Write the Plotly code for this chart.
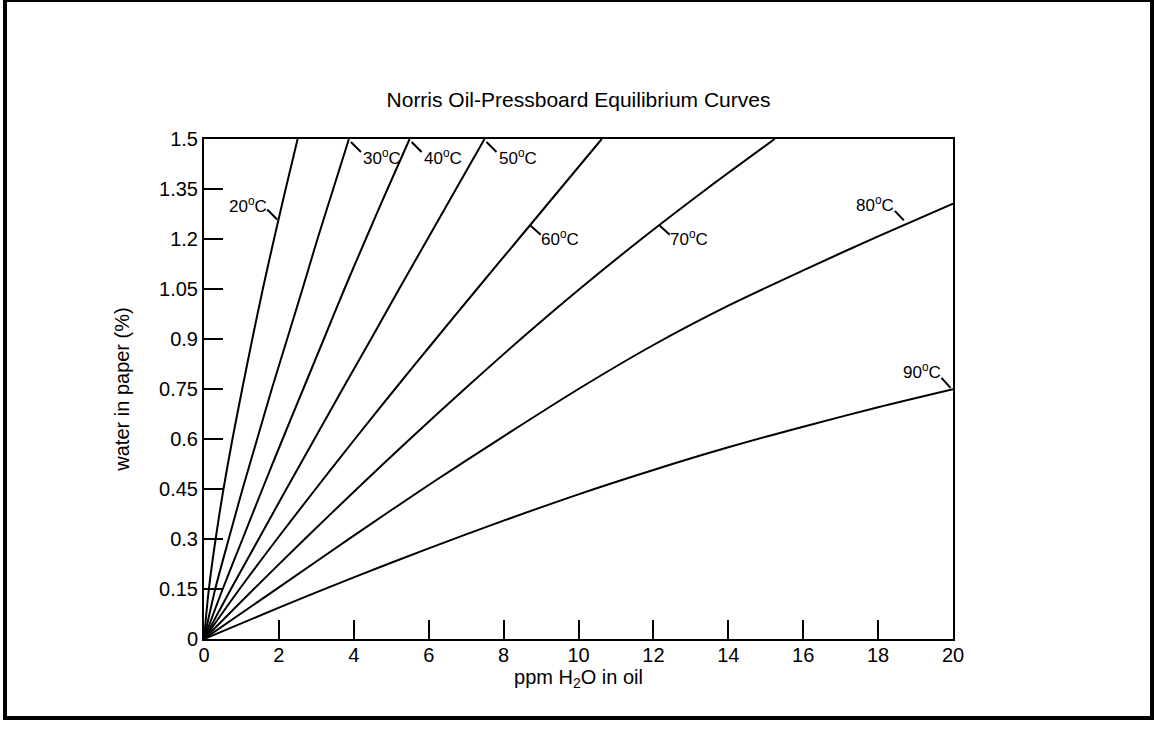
import numpy as np
import plotly.graph_objects as go

# Water content in paper (%) at which the steep curves were read
water_levels = [0, 0.15, 0.30, 0.45, 0.60, 0.75, 0.90, 1.05, 1.20, 1.35, 1.50]

# ppm of water in oil for each temperature at the water levels above
ppm_20 = [0, 0.13, 0.31, 0.52, 0.76, 1.02, 1.29, 1.57, 1.87, 2.18, 2.50]
ppm_30 = [0, 0.30, 0.66, 1.03, 1.42, 1.81, 2.22, 2.63, 3.03, 3.45, 3.87]
ppm_40 = [0, 0.50, 1.03, 1.56, 2.10, 2.65, 3.20, 3.75, 4.32, 4.90, 5.49]
ppm_50 = [0, 0.72, 1.46, 2.20, 2.95, 3.70, 4.46, 5.21, 5.97, 6.73, 7.49]
ppm_60 = [0, 0.95, 1.95, 2.98, 4.03, 5.10, 6.19, 7.29, 8.40, 9.51, 10.62]
ppm_70 = [0, 1.33, 2.69, 4.08, 5.50, 6.96, 8.46, 10.03, 11.68, 13.42, 15.24]

# The flatter curves, read at even ppm values
ppm_grid = [0, 2, 4, 6, 8, 10, 12, 14, 16, 18, 20]
water_80 = [0, 0.155, 0.31, 0.462, 0.608, 0.75, 0.882, 1.0, 1.106, 1.208, 1.306]
water_90 = [0, 0.094, 0.185, 0.272, 0.355, 0.434, 0.507, 0.575, 0.637, 0.695, 0.749]

curve_names = ["20", "30", "40", "50", "60", "70", "80", "90"]

x_ticks = [0, 2, 4, 6, 8, 10, 12, 14, 16, 18, 20]
y_ticks = [0, 0.15, 0.30, 0.45, 0.60, 0.75, 0.90, 1.05, 1.20, 1.35, 1.50]
y_tick_text = ["0", "0.15", "0.3", "0.45", "0.6", "0.75", "0.9", "1.05", "1.2", "1.35", "1.5"]

curves = {
    "20": (ppm_20, water_levels),
    "30": (ppm_30, water_levels),
    "40": (ppm_40, water_levels),
    "50": (ppm_50, water_levels),
    "60": (ppm_60, water_levels),
    "70": (ppm_70, water_levels),
    "80": (ppm_grid, water_80),
    "90": (ppm_grid, water_90),
}

FONT = "Liberation Sans, Arial, Helvetica, sans-serif"

fig = go.Figure()
for name in curve_names:
    xs, ys = curves[name]
    fig.add_trace(go.Scatter(
        x=xs, y=ys, mode="lines", name=name + "°C",
        line=dict(color="black", width=2, shape="spline", smoothing=0.8),
        hoverinfo="skip", showlegend=False, cliponaxis=True,
    ))

# Label placement: where the label attaches on each curve, plus the leader
# and text offsets in screen pixels (dx right, dy down).
label_spec = {
    "20": dict(by="water", at=1.26, lead=(-11.5, -9.5, -1.5, 0.5), text=(-31, -14.5)),
    "30": dict(by="water", at=1.50, lead=(2, 3, 12, 13), text=(33, 18)),
    "40": dict(by="water", at=1.50, lead=(2, 3, 12, 13), text=(33, 18)),
    "50": dict(by="water", at=1.50, lead=(2, 3, 12, 13), text=(33, 18)),
    "60": dict(by="water", at=1.24, lead=(1, 0, 11, 9), text=(30, 12.5)),
    "70": dict(by="water", at=1.24, lead=(1, 0, 11, 9), text=(30, 12.5)),
    "80": dict(by="ppm", at=18.7, lead=(-9.5, -14, -0.5, -4.5), text=(-29.5, -20.5)),
    "90": dict(by="ppm", at=20.0, lead=(-11.5, -11.5, -2.5, -1.5), text=(-31.5, -18)),
}

shapes = []
annotations = []
for name in curve_names:
    xs, ys = curves[name]
    spec = label_spec[name]
    if spec["by"] == "water":
        ay = spec["at"]
        ax = float(np.interp(ay, ys, xs))
    else:
        ax = spec["at"]
        ay = float(np.interp(ax, xs, ys))
    dx0, dy0, dx1, dy1 = spec["lead"]
    shapes.append(dict(
        type="line", xref="x", yref="y",
        xsizemode="pixel", ysizemode="pixel",
        xanchor=ax, yanchor=ay,
        x0=dx0, x1=dx1, y0=-dy0, y1=-dy1,
        line=dict(color="black", width=2),
    ))
    tx, ty = spec["text"]
    annotations.append(dict(
        x=ax, y=ay, xref="x", yref="y",
        text=name + "<sup>o</sup>C", showarrow=False,
        xshift=tx, yshift=-ty, xanchor="center", yanchor="middle",
        font=dict(family=FONT, size=17, color="black"),
    ))

# Outer frame round the whole figure
W, H = 1154, 731
ML, MR, MT, MB = 204, 201, 139, 92
PW, PH = W - ML - MR, H - MT - MB


def px_to_paper_x(px):
    return (px - ML) / PW


def px_to_paper_y(py):
    return (H - MB - py) / PH


shapes.append(dict(
    type="rect", xref="paper", yref="paper",
    x0=px_to_paper_x(5), x1=px_to_paper_x(1152),
    y0=px_to_paper_y(718), y1=px_to_paper_y(0),
    line=dict(color="black", width=4), fillcolor="rgba(0,0,0,0)", layer="below",
))

fig.update_layout(
    width=W, height=H,
    margin=dict(l=ML, r=MR, t=MT, b=MB, pad=0),
    paper_bgcolor="white", plot_bgcolor="white",
    font=dict(family=FONT, size=20, color="black"),
    title=dict(
        text="Norris Oil-Pressboard Equilibrium Curves",
        x=0.5, xref="paper", xanchor="center",
        y=1 - 100 / H, yref="container", yanchor="middle",
        font=dict(family=FONT, size=21, color="black"),
    ),
    shapes=shapes,
    annotations=annotations,
    showlegend=False,
)

fig.update_xaxes(
    range=[0, 20], tickvals=x_ticks, ticktext=[str(v) for v in x_ticks],
    ticks="inside", ticklen=19, tickwidth=2, tickcolor="black",
    ticklabelstandoff=-3,
    showline=True, linecolor="black", linewidth=2, mirror=True,
    showgrid=False, zeroline=False,
    title=dict(text="ppm H<sub>2</sub>O in oil", standoff=1,
               font=dict(family=FONT, size=20)),
    tickfont=dict(family=FONT, size=20),
)
fig.update_yaxes(
    range=[0, 1.5], tickvals=y_ticks, ticktext=y_tick_text,
    ticks="inside", ticklen=19, tickwidth=2, tickcolor="black",
    showline=True, linecolor="black", linewidth=2, mirror=True,
    showgrid=False, zeroline=False,
    title=dict(text="water in paper (%)", standoff=24,
               font=dict(family=FONT, size=20)),
    tickfont=dict(family=FONT, size=20),
)

fig.write_html("out.html", config={"displayModeBar": False})
